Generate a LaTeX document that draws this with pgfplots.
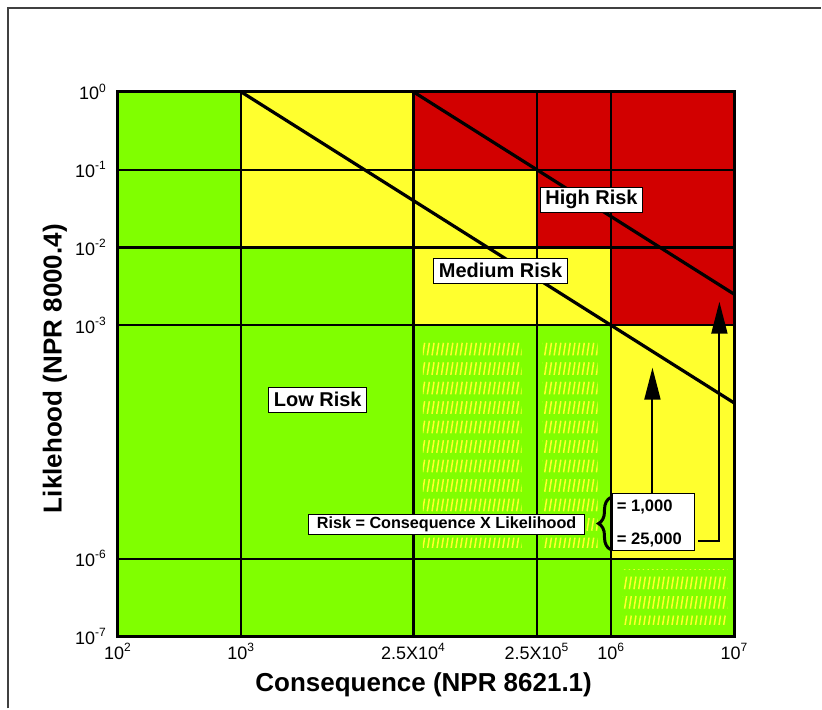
\documentclass[border=0pt]{standalone}
\usepackage{pgfplots}
\pgfplotsset{compat=1.18}
\usepackage{fontspec}
\setmainfont{Liberation Sans}
\usetikzlibrary{patterns,arrows.meta,decorations.pathreplacing}
\definecolor{rgreen}{HTML}{80FF00}
\definecolor{ryellow}{HTML}{FFFF2E}
\definecolor{rred}{HTML}{D20000}
\pgfdeclarepatternformonly{dashhatch}{\pgfqpoint{-0.5pt}{0pt}}{\pgfqpoint{1.85pt}{9.75pt}}{\pgfqpoint{2.35pt}{9.75pt}}{%
  \pgfsetlinewidth{0.75pt}%
  \pgfpathmoveto{\pgfqpoint{0pt}{1.5pt}}%
  \pgfpathlineto{\pgfqpoint{1pt}{7.8pt}}%
  \pgfusepath{stroke}%
}
\begin{document}
\begin{tikzpicture}
\begin{scope}[x=0.5pt,y=-0.5pt,shift={(-59pt,318.5pt)}]
\path[use as bounding box] (0,0) rectangle (822,709);
\end{scope}
\begin{axis}[
  at={(0pt,0pt)}, anchor=south west,
  scale only axis, width=308.5pt, height=272.5pt,
  xmode=log, ymode=log,
  xmin=1e2, xmax=1e7, ymin=1e-7, ymax=1,
  xtick={1e2,1e3,2.5e4,2.5e5,1e6,1e7},
  xticklabels={10\textsuperscript{2},10\textsuperscript{3},2.5X10\textsuperscript{4},2.5X10\textsuperscript{5},10\textsuperscript{6},10\textsuperscript{7}},
  ytick={1e-7,1e-6,1e-3,1e-2,1e-1,1},
  yticklabels={10\textsuperscript{-7},10\textsuperscript{-6},10\textsuperscript{-3},10\textsuperscript{-2},10\textsuperscript{-1},10\textsuperscript{0}},
  minor xtick={}, minor ytick={},
  major tick length=0pt, minor tick length=0pt,
  grid=major, major grid style={black, line width=1.1pt},
  axis on top,
  axis line style={line width=1.5pt},
  xticklabel style={font=\fontsize{9}{10}\selectfont},
  yticklabel style={font=\fontsize{9}{10}\selectfont, xshift=-2pt},
  xlabel={Consequence (NPR 8621.1)},
  xlabel style={at={(axis description cs:0.496,-0.088)}, anchor=center, font=\bfseries\fontsize{13}{15}\selectfont},
]
% background
\addplot[fill=rgreen, draw=none] coordinates {(1e2,1e-7) (1e7,1e-7) (1e7,1) (1e2,1)} -- cycle;
% yellow (medium risk)
\addplot[fill=ryellow, draw=none] coordinates {(1e3,1e-2) (2.5e4,1e-2) (2.5e4,1) (1e3,1)} -- cycle;
\addplot[fill=ryellow, draw=none] coordinates {(2.5e4,1e-2) (2.5e5,1e-2) (2.5e5,1e-1) (2.5e4,1e-1)} -- cycle;
\addplot[fill=ryellow, draw=none] coordinates {(2.5e4,1e-3) (1e6,1e-3) (1e6,1e-2) (2.5e4,1e-2)} -- cycle;
\addplot[fill=ryellow, draw=none] coordinates {(1e6,1e-6) (1e7,1e-6) (1e7,1e-3) (1e6,1e-3)} -- cycle;
% red (high risk)
\addplot[fill=rred, draw=none] coordinates {(2.5e4,1e-1) (1e7,1e-1) (1e7,1) (2.5e4,1)} -- cycle;
\addplot[fill=rred, draw=none] coordinates {(2.5e5,1e-2) (1e7,1e-2) (1e7,1e-1) (2.5e5,1e-1)} -- cycle;
\addplot[fill=rred, draw=none] coordinates {(1e6,1e-3) (1e7,1e-3) (1e7,1e-2) (1e6,1e-2)} -- cycle;
% hatched areas
\addplot[draw=none, pattern=dashhatch, pattern color=ryellow] coordinates {(2.97e4,1.4e-6) (1.88e5,1.4e-6) (1.88e5,6.95e-4) (2.97e4,6.95e-4)} -- cycle;
\addplot[draw=none, pattern=dashhatch, pattern color=ryellow] coordinates {(2.78e5,1.4e-6) (7.76e5,1.4e-6) (7.76e5,6.95e-4) (2.78e5,6.95e-4)} -- cycle;
\addplot[draw=none, pattern=dashhatch, pattern color=ryellow] coordinates {(1.24e6,1.44e-7) (8.77e6,1.44e-7) (8.77e6,7.3e-7) (1.24e6,7.3e-7)} -- cycle;
% iso-risk lines
\addplot[black, line width=1.6pt] coordinates {(1e3,1) (1e7,1e-4)};
\addplot[black, line width=1.6pt] coordinates {(2.5e4,1) (1e7,2.5e-3)};
\end{axis}
\begin{scope}[x=0.5pt,y=-0.5pt,shift={(-59pt,318.5pt)}]
\draw[black!75, line width=0.7pt] (8,709) -- (8,8) -- (822,8);
\node[rotate=90, font=\bfseries\fontsize{13}{15}\selectfont] at (55,369) {Liklehood (NPR 8000.4)};
\tikzset{riskbox/.style={draw=black, fill=white, line width=0.5pt, font=\bfseries\fontsize{10}{12}\selectfont, inner xsep=2.5pt, inner ysep=1.5pt, minimum height=12.5pt}}
\node[riskbox] at (592,200) {High Risk};
\node[riskbox] at (501,271) {Medium Risk};
\node[riskbox] at (318,400) {Low Risk};
\node[draw=black, fill=white, line width=0.5pt, font=\bfseries\fontsize{8.1}{10}\selectfont, inner xsep=4pt, inner ysep=1pt, minimum height=10pt] at (447,525) {Risk = Consequence X Likelihood};
\draw[fill=white, line width=0.5pt] (613,494) rectangle (695,551);
\node[anchor=west, font=\bfseries\fontsize{8.3}{10}\selectfont, inner sep=0pt] at (617,507) {= 1,000};
\node[anchor=west, font=\bfseries\fontsize{8.3}{10}\selectfont, inner sep=0pt] at (617,540) {= 25,000};
\draw[decorate, decoration={brace, amplitude=6pt}, line width=1.5pt] (611,550) -- (611,498);
\draw[line width=1pt, -{Triangle[length=16pt,width=8pt]}] (653,494) -- (653,368);
\draw[line width=1pt, line join=miter, -{Triangle[length=16pt,width=8pt]}] (699,541) -- (720,541) -- (720,302);
\end{scope}
\end{tikzpicture}
\end{document}
